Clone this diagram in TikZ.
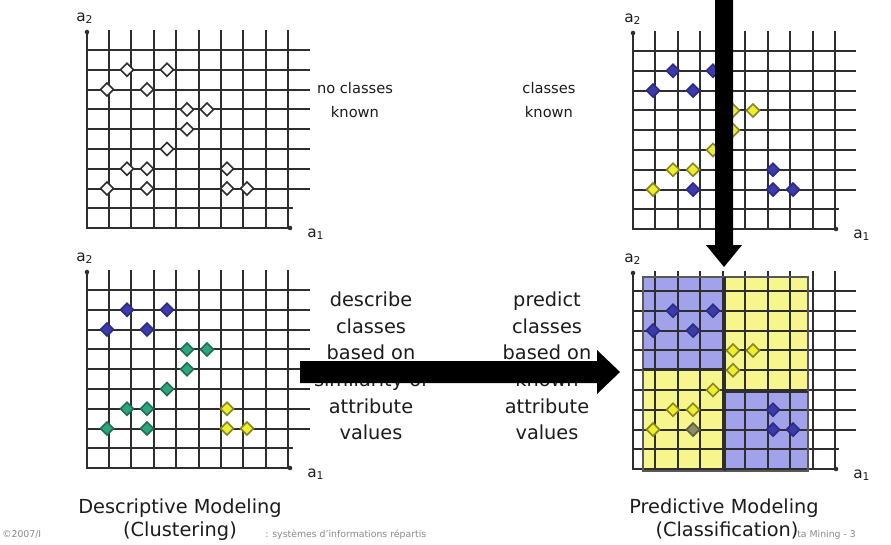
\documentclass[tikz,border=0pt]{standalone}
\usepackage{fontspec}
\setmainfont{DejaVu Sans}
\definecolor{gridc}{HTML}{2E2E2E}
\definecolor{textc}{HTML}{1C1C1C}
\definecolor{footc}{HTML}{8A8A8A}
\definecolor{dblue}{HTML}{3B3BAA}
\definecolor{dblueo}{HTML}{2C2C86}
\definecolor{mgreen}{HTML}{2FA57E}
\definecolor{mgreeno}{HTML}{1E6E52}
\definecolor{myel}{HTML}{EEEE2A}
\definecolor{myelo}{HTML}{85852A}
\definecolor{molive}{HTML}{8C8C66}
\definecolor{moliveo}{HTML}{5E5E40}
\definecolor{bluereg}{HTML}{A2A2EA}
\definecolor{yelreg}{HTML}{F6F68C}
\tikzset{
  gridline/.style={draw=gridc, line width=1.5pt},
  regborder/.style={draw=gridc!80, line width=1pt},
  partline/.style={draw=gridc, line width=1.8pt},
  midtext/.style={font=\fontsize{14.5}{18}\selectfont, text=textc, anchor=base, inner sep=0pt},
  toptext/.style={font=\fontsize{11}{14}\selectfont, text=textc, anchor=base, inner sep=0pt},
  axlabel/.style={font=\fontsize{11.5}{13}\selectfont, text=textc, anchor=base west, inner sep=0pt},
  foottext/.style={font=\fontsize{7}{8}\selectfont, text=footc, anchor=base west, inner sep=0pt},
  bigarrow/.style={fill=black},
}
% #1 = x of vertical axis, #2 = y of top axis dot, #3 = spacing of vertical lines
\newcommand{\gridpanel}[3]{%
  \foreach \i in {0,...,8} {
    \draw[gridline] ({#1+22+#3*\i},{#2-2}) -- ({#1+22+#3*\i},{#2+196});
  }
  \foreach \j in {0,...,7} {
    \draw[gridline] (#1,{#2+18+19.8*\j}) -- ({#1+223},{#2+18+19.8*\j});
  }
  \draw[gridline] (#1,{#2+18+19.8*8}) -- ({#1+206},{#2+18+19.8*8});
  \draw[gridline] (#1,#2) -- (#1,{#2+196}) -- ({#1+203},{#2+196});
  \fill[gridc] (#1,#2) circle (1.7pt);
  \fill[gridc] ({#1+203},{#2+196}) circle (1.7pt);
}
% #1 X, #2 Y, #3 column k, #4 row j, #5 fill, #6 outline
\newcommand{\dia}[6]{%
  \filldraw[fill=#5, draw=#6, line width=1.2pt]
    ({#1+20+20*#3-6.5},{#2+18+19.8*#4}) -- ++(6.5,-6.5) -- ++(6.5,6.5) -- ++(-6.5,6.5) -- cycle;
}
\begin{document}
\begin{tikzpicture}[x=0.75pt,y=-0.75pt]
\useasboundingbox (0,0) rectangle (891,544);
\fill[white] (0,0) rectangle (891,544);

% coloured regions of the classification panel
\fill[bluereg] (643,277) rectangle (725,369);
\fill[yelreg] (725,277) rectangle (808,392);
\fill[yelreg] (643,369) rectangle (725,471);
\fill[bluereg] (725,392) rectangle (808,471);

% grids
\gridpanel{87}{32}{22.4}
\gridpanel{87}{272}{22.4}
\gridpanel{633}{33}{22.5}
\gridpanel{633}{273}{22.5}

% region borders
\draw[regborder] (643,277) rectangle (808,471);
\draw[partline] (725,277) -- (725,471);
\draw[partline] (643,369) -- (725,369);
\draw[partline] (725,392) -- (808,392);

% top-left: unlabelled points
\foreach \k/\j in {1/1,3/1,0/2,2/2,4/3,5/3,4/4,3/5,1/6,2/6,0/7,2/7,6/6,6/7,7/7}
  {\dia{87}{32}{\k}{\j}{white}{gridc}}

% bottom-left: clusters
\foreach \k/\j in {1/1,3/1,0/2,2/2}
  {\dia{87}{272}{\k}{\j}{dblue}{dblueo}}
\foreach \k/\j in {4/3,5/3,4/4,3/5,1/6,2/6,0/7,2/7}
  {\dia{87}{272}{\k}{\j}{mgreen}{mgreeno}}
\foreach \k/\j in {6/6,6/7,7/7}
  {\dia{87}{272}{\k}{\j}{myel}{myelo}}

% top-right: known classes
\foreach \k/\j in {1/1,3/1,0/2,2/2,2/7,6/6,6/7,7/7}
  {\dia{633}{33}{\k}{\j}{dblue}{dblueo}}
\foreach \k/\j in {4/3,5/3,4/4,3/5,1/6,2/6,0/7}
  {\dia{633}{33}{\k}{\j}{myel}{myelo}}

% bottom-right: classification
\foreach \k/\j in {1/1,3/1,0/2,2/2,6/6,6/7,7/7}
  {\dia{633}{273}{\k}{\j}{dblue}{dblueo}}
\foreach \k/\j in {4/3,5/3,4/4,3/5,1/6,2/6,0/7}
  {\dia{633}{273}{\k}{\j}{myel}{myelo}}
\dia{633}{273}{2}{7}{molive}{moliveo}

% axis labels
\node[axlabel] (a2tl) at (76,21) {a\textsubscript{2}};
\node[axlabel] (a1tl) at (307,237) {a\textsubscript{1}};
\node[axlabel] (a2bl) at (76,261) {a\textsubscript{2}};
\node[axlabel] (a1bl) at (307,477) {a\textsubscript{1}};
\node[axlabel] (a2tr) at (624,22) {a\textsubscript{2}};
\node[axlabel] (a1tr) at (853,238) {a\textsubscript{1}};
\node[axlabel] (a2br) at (624,262) {a\textsubscript{2}};
\node[axlabel] (a1br) at (853,478) {a\textsubscript{1}};

% top texts
\node[toptext] (nc1) at (355,93) {no classes};
\node[toptext] (nc2) at (355,117) {known};
\node[toptext] (ck1) at (549,93) {classes};
\node[toptext] (ck2) at (549,117) {known};

% middle texts
\node[midtext] (d1) at (371,306) {describe};
\node[midtext] (d2) at (371,333) {classes};
\node[midtext] (d3) at (371,359) {based on};
\node[midtext] (d4) at (371,386) {similarity of};
\node[midtext] (d5) at (371,413) {attribute};
\node[midtext] (d6) at (371,439) {values};
\node[midtext] (p1) at (547,306) {predict};
\node[midtext] (p2) at (547,333) {classes};
\node[midtext] (p3) at (547,359) {based on};
\node[midtext] (p4) at (547,386) {known};
\node[midtext] (p5) at (547,413) {attribute};
\node[midtext] (p6) at (547,439) {values};

% footer (drawn before captions)
\node[foottext] (f1) at (2,537) {©2007/I};
\node[foottext] (f2) at (265,537) {: systèmes d'informations répartis};
\node[foottext] (f3) at (797,537) {ta Mining - 3};

% captions
\node[midtext] (cap1) at (180,513) {Descriptive Modeling};
\node[midtext] (cap2) at (180,536) {(Clustering)};
\node[midtext] (cap3) at (724,513) {Predictive Modeling};
\node[midtext] (cap4) at (727,536) {(Classification)};

% big arrows
\coordinate (vstart) at (724,-5);
\coordinate (vtip) at (724,267);
\fill[bigarrow] ([xshift=-6.75pt]vstart) -- ([xshift=6.75pt]vstart)
  -- (733,245) -- (742,245) -- (vtip) -- (706,245) -- (715,245) -- cycle;
\coordinate (hstart) at (300,372);
\coordinate (htip) at (620,372);
\fill[bigarrow] ([yshift=8.25pt]hstart) -- (597,361) -- (597,350) -- (htip)
  -- (597,394) -- (597,383) -- ([yshift=-8.25pt]hstart) -- cycle;
\end{tikzpicture}
\end{document}
